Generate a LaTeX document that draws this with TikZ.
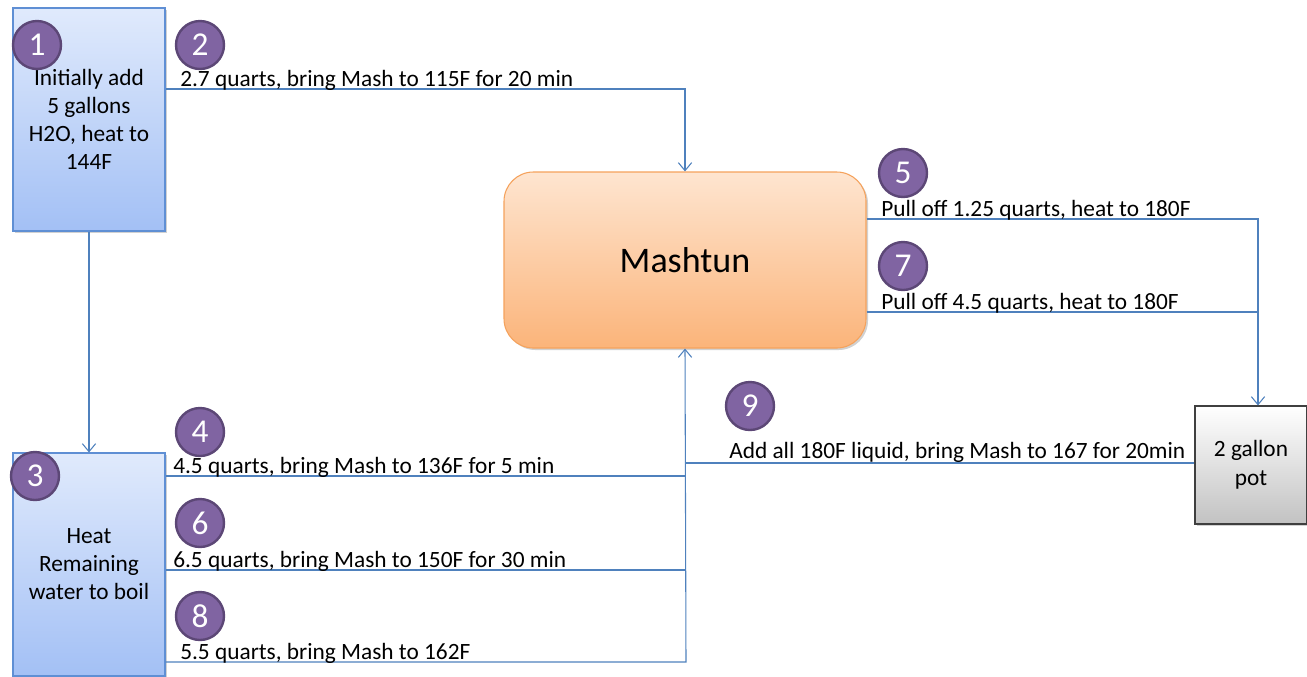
\documentclass[tikz,border=0pt]{standalone}
\usepackage{fontspec}
\setmainfont{Carlito}
\usetikzlibrary{arrows.meta,shadows}
\definecolor{linkblue}{HTML}{4F81BD}
\definecolor{boxtop}{HTML}{E0EAFC}
\definecolor{boxbot}{HTML}{A3C0F5}
\definecolor{boxedge}{HTML}{5F8FD4}
\definecolor{tuntop}{HTML}{FEE5D0}
\definecolor{tunbot}{HTML}{FBB47A}
\definecolor{tunedge}{HTML}{F5A25C}
\definecolor{potbot}{HTML}{C2C2C2}
\definecolor{potedge}{HTML}{3F3F3F}
\definecolor{stepfill}{HTML}{8064A2}
\definecolor{stepedge}{HTML}{5C4776}
\tikzset{
  x=0.75pt, y=-0.75pt,
  softshadow/.style={drop shadow={shadow xshift=1.5pt, shadow yshift=-1.5pt, fill=black, opacity=0.18}},
  heater/.style={draw=boxedge, line width=0.8pt, top color=boxtop, bottom color=boxbot,
    minimum width=152*0.75pt, minimum height=223*0.75pt, inner sep=0pt,
    align=center, font=\fontsize{17.5}{21}\selectfont, softshadow},
  tun/.style={draw=tunedge, line width=0.8pt, top color=tuntop, bottom color=tunbot,
    rounded corners=22pt, minimum width=362*0.75pt, minimum height=176*0.75pt,
    font=\fontsize{27}{32}\selectfont, softshadow},
  potbox/.style={draw=potedge, line width=0.8pt, top color=white, bottom color=potbot,
    minimum width=112*0.75pt, minimum height=118*0.75pt, inner sep=0pt,
    align=center, font=\fontsize{17.5}{21.5}\selectfont, softshadow},
  stepno/.style={circle, fill=stepfill, draw=stepedge, line width=1.8pt,
    minimum size=48*0.75pt, inner sep=0pt, text=white, font=\fontsize{25}{25}\selectfont},
  flow/.style={draw=linkblue, line width=0.8pt},
  arr/.style={flow, -{Straight Barb[length=6pt,width=10pt,line width=0.8pt]}},
  lbl/.style={anchor=base west, inner sep=0pt, font=\fontsize{17.5}{20}\selectfont},
}
\begin{document}
\begin{tikzpicture}
\useasboundingbox (0,0) rectangle (1307,676);

% vessels
\node[heater] (b1) at (89,119.5) {Initially add\\5 gallons\\H2O, heat to\\144F};
\node[heater] (b3) at (89,564.5) {Heat\\Remaining\\water to boil};
\node[tun] (mash) at (685,260) {Mashtun};
\node[potbox] (pot) at (1251,465) {2 gallon\\pot};

% junction points
\coordinate (j2) at (686,89);
\coordinate (r4) at (686,476);
\coordinate (r6) at (686,570);
\coordinate (r8) at (686,662);
\coordinate (r9) at (686,463);
\coordinate (p5) at (1258,219);
\coordinate (p7) at (1258,312);

% connectors
\draw[arr] (b1.east |- j2) -| (mash.north);
\draw[arr] (b1.south) -- (b3.north);
\draw[flow] (b3.east |- r4) -- (r4);
\draw[flow] (b3.east |- r6) -- (r6);
\draw[arr] (b3.east |- r8) -- (r8) -- (mash.south);
\draw[flow] (pot.west |- r9) -- (r9);
\draw[arr] (mash.east |- p5) -- (p5) -- (p5 |- pot.north);
\draw[flow] (mash.east |- p7) -- (p7);

% labels
\node[lbl] (t2) at (180,86) {2.7 quarts, bring Mash to 115F for 20 min};
\node[lbl] (t4) at (173,473) {4.5 quarts, bring Mash to 136F for 5 min};
\node[lbl] (t6) at (173,567) {6.5 quarts, bring Mash to 150F for 30 min};
\node[lbl] (t8) at (180,659) {5.5 quarts, bring Mash to 162F};
\node[lbl] (t5) at (881,216) {Pull off 1.25 quarts, heat to 180F};
\node[lbl] (t7) at (881,309) {Pull off 4.5 quarts, heat to 180F};
\node[lbl] (t9) at (729,458) {Add all 180F liquid, bring Mash to 167 for 20min};

% step numbers
\node[stepno] (s1) at (37,45) {1};
\node[stepno] (s2) at (200,45) {2};
\node[stepno] (s3) at (35,476) {3};
\node[stepno] (s4) at (200,432) {4};
\node[stepno] (s5) at (903,173) {5};
\node[stepno] (s6) at (200,523) {6};
\node[stepno] (s7) at (903,266) {7};
\node[stepno] (s8) at (200,616) {8};
\node[stepno] (s9) at (750,406) {9};
\end{tikzpicture}
\end{document}
